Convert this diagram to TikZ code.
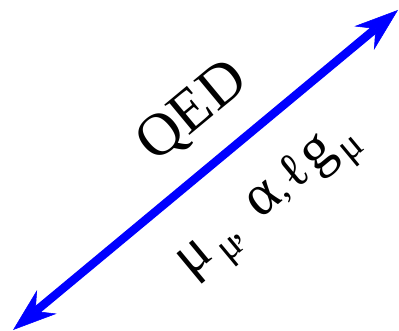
\documentclass[tikz,border=0pt]{standalone}
\usepackage{fontspec}
\setmainfont{Liberation Serif}
\usetikzlibrary{arrows.meta}
\definecolor{axisblue}{HTML}{0000FF}
\newcommand{\lowtxt}[1]{\raisebox{-0.22em}{\scalebox{0.68}{#1}}}
\newcommand{\smalltxt}[2][0.65]{\scalebox{#1}{#2}}
\tikzset{
  axis tip/.tip={Stealth[length=33pt,width=23pt,inset=11pt,line width=0.4pt]},
  axis/.style={{axis tip}-{axis tip},draw=axisblue,line width=6.3pt},
  theory/.style={font=\fontsize{45}{45}\selectfont,inner sep=0pt,rotate=39.7},
  params/.style={font=\fontsize{44}{44}\selectfont,inner sep=0pt,rotate=39.7,anchor=base west}
}
\begin{document}
\begin{tikzpicture}[x=0.75pt,y=-0.75pt]
  \useasboundingbox (0,0) rectangle (399,331);

  \coordinate (lowend) at (13,330);
  \coordinate (highend) at (398,10);

  \node[theory] (qed) at (193.5,113) {QED};
  \node[params] (couplings) at (190.3,277.5)
    {μ\hspace{5pt}\lowtxt{μ}\hspace{-2pt}\smalltxt{,}\hspace{18pt}α\hspace{1pt}\smalltxt{,}\hspace{2pt}\smalltxt[0.85]{ℓ}\hspace{2.5pt}g\hspace{3.5pt}\lowtxt{μ}};

  \draw[axis] (lowend) -- (highend);
\end{tikzpicture}
\end{document}
